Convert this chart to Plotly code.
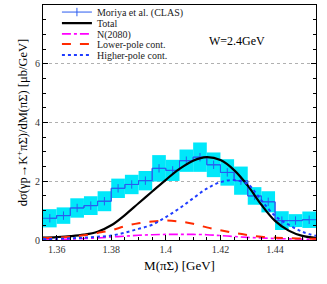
import plotly.graph_objects as go

# ---- data ----
bin_centers = [1.3575, 1.3625, 1.3675, 1.3725, 1.3775, 1.3825, 1.3875, 1.3925, 1.3975, 1.4025,
               1.4075, 1.4125, 1.4175, 1.4225, 1.4275, 1.4325, 1.4375, 1.4425, 1.4475, 1.4525]
bin_width = 0.005
clas_values = [0.74, 0.83, 1.09, 1.17, 1.32, 1.76, 1.89, 2.02, 2.44, 2.37,
               2.70, 2.82, 2.56, 2.30, 2.02, 1.50, 1.30, 0.66, 0.66, 0.69]
clas_errors = [0.31, 0.28, 0.33, 0.32, 0.34, 0.33, 0.33, 0.33, 0.45, 0.36,
               0.38, 0.50, 0.42, 0.45, 0.48, 0.30, 0.36, 0.32, 0.22, 0.28]

curve_x = [1.355, 1.36, 1.365, 1.37, 1.375, 1.38, 1.385, 1.39, 1.395, 1.40, 1.405,
           1.41, 1.415, 1.42, 1.425, 1.43, 1.435, 1.44, 1.445, 1.45, 1.455]
total = [0.08, 0.10, 0.13, 0.18, 0.28, 0.50, 0.85, 1.25, 1.65, 2.05, 2.42,
         2.70, 2.82, 2.72, 2.38, 1.85, 1.20, 0.65, 0.32, 0.14, 0.07]
n2080 = [0.01, 0.02, 0.03, 0.05, 0.07, 0.10, 0.13, 0.16, 0.18, 0.19, 0.19,
         0.19, 0.18, 0.15, 0.12, 0.09, 0.07, 0.05, 0.04, 0.03, 0.02]
lower_pole = [0.06, 0.08, 0.11, 0.16, 0.24, 0.33, 0.47, 0.57, 0.63, 0.66, 0.63,
              0.55, 0.43, 0.33, 0.24, 0.17, 0.11, 0.08, 0.06, 0.05, 0.04]
higher_pole = [0.03, 0.04, 0.06, 0.08, 0.11, 0.15, 0.25, 0.38, 0.52, 0.78, 1.08,
               1.42, 1.75, 1.97, 2.04, 1.90, 1.35, 0.82, 0.52, 0.28, 0.14]

x_tickvals = [1.36, 1.38, 1.40, 1.42, 1.44]
x_ticktext = ["1.36", "1.38", "1.4", "1.42", "1.44"]
y_tickvals = [0, 2, 4, 6, 8]

FONT = "Liberation Serif, Times New Roman, DejaVu Serif, serif"
DATA_BLUE = "#2a5cf0"
CYAN = "#00e8fa"

fig = go.Figure()

# error band boxes
fig.add_trace(go.Bar(
    x=bin_centers,
    y=[2 * e for e in clas_errors],
    base=[v - e for v, e in zip(clas_values, clas_errors)],
    width=bin_width,
    marker=dict(color=CYAN, line=dict(width=0)),
    showlegend=False, hoverinfo="skip",
))

# full step line over bin edges
edges = [c - bin_width / 2 for c in bin_centers] + [bin_centers[-1] + bin_width / 2]
fig.add_trace(go.Scatter(
    x=edges, y=clas_values + [clas_values[-1]],
    mode="lines", line=dict(color=DATA_BLUE, width=1, shape="hv"),
    showlegend=False, hoverinfo="skip",
))

# data with center ticks (legend entry)
fig.add_trace(go.Scatter(
    x=bin_centers, y=clas_values,
    mode="lines+markers",
    line=dict(color=DATA_BLUE, width=1, shape="hvh"),
    marker=dict(symbol="line-ns", size=6, line=dict(color=DATA_BLUE, width=1)),
    name="Moriya et al. (CLAS)", legend="legend",
))

fig.add_trace(go.Scatter(
    x=curve_x, y=total, mode="lines",
    line=dict(color="black", width=2.2, shape="spline"),
    name="Total", legend="legend2",
))
fig.add_trace(go.Scatter(
    x=curve_x, y=n2080, mode="lines",
    line=dict(color="#ff00ff", width=1.6, dash="dashdot", shape="spline"),
    name="N(2080)", legend="legend3",
))
fig.add_trace(go.Scatter(
    x=curve_x, y=lower_pole, mode="lines",
    line=dict(color="#ff2a00", width=2, dash="dash", shape="spline"),
    name="Lower-pole cont.", legend="legend4",
))
fig.add_trace(go.Scatter(
    x=curve_x, y=higher_pole, mode="lines",
    line=dict(color="#1f3cff", width=2, dash="dot", shape="spline"),
    name="Higher-pole cont.", legend="legend5",
))

fig.add_annotation(
    x=0.82, y=0.885, xref="paper", yref="paper",
    text="W=2.4GeV", showarrow=False,
    font=dict(family=FONT, size=12, color="black"),
)


def legend_style(ypos):
    return dict(
        x=0.051, y=ypos, xanchor="left", yanchor="middle",
        bgcolor="rgba(0,0,0,0)", borderwidth=0,
        font=dict(family=FONT, size=10, color="#222222"),
        itemwidth=30, tracegroupgap=0,
    )


fig.update_layout(
    width=327, height=284,
    margin=dict(l=43, r=11, t=5, b=44, autoexpand=False),
    paper_bgcolor="white", plot_bgcolor="white",
    font=dict(family=FONT, size=10, color="black"),
    barmode="overlay",
    legend=legend_style(0.970),
    legend2=legend_style(0.923),
    legend3=legend_style(0.877),
    legend4=legend_style(0.834),
    legend5=legend_style(0.787),
    showlegend=True,
)

fig.update_xaxes(
    range=[1.355, 1.455], automargin=False,
    tickvals=x_tickvals, ticktext=x_ticktext,
    ticks="inside", ticklen=5, tickcolor="black",
    minor=dict(dtick=0.005, ticks="inside", ticklen=3, tickcolor="black"),
    showline=True, linecolor="black", linewidth=1, mirror=True,
    showgrid=False, zeroline=False,
    tickfont=dict(family=FONT, size=10, color="#333333"),
    title=dict(text="M(πΣ) [GeV]", font=dict(family=FONT, size=13, color="black"), standoff=6),
)
fig.update_yaxes(
    range=[0, 8], automargin=False,
    tickvals=y_tickvals,
    ticks="inside", ticklen=5, tickcolor="black",
    minor=dict(dtick=0.5, ticks="inside", ticklen=3, tickcolor="black"),
    showline=True, linecolor="black", linewidth=1, mirror="allticks",
    showgrid=True, gridcolor="#b0b0b0", griddash="dot", gridwidth=1,
    zeroline=False,
    tickfont=dict(family=FONT, size=10, color="#333333"),
    title=dict(text="dσ(γp→K<sup>+</sup>πΣ)/dM(πΣ) [μb/GeV]",
               font=dict(family=FONT, size=12.5, color="black"), standoff=4),
)

fig.write_html(
    "out.html",
    config={"displayModeBar": False},
    post_script="document.body.style.margin='0';document.body.style.padding='0';",
)
